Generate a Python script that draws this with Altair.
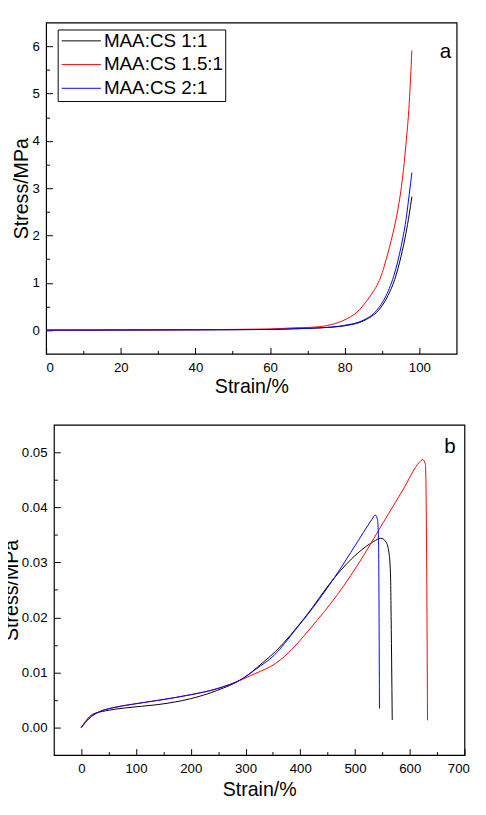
import altair as alt
import pandas as pd

series_names = ["MAA:CS 1:1", "MAA:CS 1.5:1", "MAA:CS 2:1"]
series_colors = ["#000000", "#ff0000", "#0000ff"]
panel_labels = ["a", "b"]

# ---- panel a (strain %, stress MPa) ----
a_strain_11 = [0, 20, 40, 60, 66.6, 73.7, 80.6, 85.9, 89.4, 91.6, 93.4, 95.1, 96.4, 97.3, 98.0]
a_stress_11 = [0, 0.003, 0.007, 0.015, 0.03, 0.05, 0.10, 0.23, 0.45, 0.73, 1.07, 1.56, 2.04, 2.45, 2.82]
a_strain_151 = [0, 20, 40, 60, 66.6, 71.0, 75.4, 79.8, 83.3, 86.3, 87.7, 89.0, 90.1, 91.1, 92.9, 94.2, 95.5, 96.4, 97.3, 98.0]
a_stress_151 = [0, 0.004, 0.01, 0.025, 0.05, 0.06, 0.10, 0.21, 0.38, 0.66, 0.82, 1.00, 1.22, 1.49, 2.04, 2.52, 3.22, 3.91, 4.80, 5.91]
a_strain_21 = [0, 20, 40, 60, 66.6, 73.7, 79.8, 85.0, 88.5, 91.1, 93.4, 95.1, 96.4, 97.3, 98.0]
a_stress_21 = [0, 0.003, 0.007, 0.015, 0.03, 0.05, 0.10, 0.21, 0.41, 0.73, 1.21, 1.76, 2.32, 2.87, 3.33]

# ---- panel b ----
b_strain_11 = [0, 20.3, 44.2, 80, 139.8, 199.5, 247.3, 295, 331, 354.8, 408.5, 462.3, 504, 534, 547, 556.7, 562.6, 565, 565.7, 568]
b_stress_11 = [0, 0.00238, 0.00303, 0.00356, 0.00416, 0.00523, 0.00671, 0.0089, 0.01174, 0.01383, 0.0200, 0.0272, 0.0316, 0.0338, 0.0344, 0.0337, 0.0313, 0.0272, 0.0224, 0.00137]
b_strain_151 = [0, 14.3, 32.3, 56.2, 92, 139.8, 199.5, 247.3, 295, 318.9, 354.8, 371.5, 420.5, 468.3, 516, 551.9, 587.7, 617.6, 623.5, 628.4, 629.5, 632.5]
b_stress_151 = [0, 0.00167, 0.00285, 0.00357, 0.00421, 0.00493, 0.00594, 0.00701, 0.00879, 0.00985, 0.01163, 0.01294, 0.01827, 0.0242, 0.0313, 0.0373, 0.0432, 0.0482, 0.0487, 0.0479, 0.045, 0.0013]
b_strain_21 = [0, 14.3, 32.3, 56.2, 92, 139.8, 199.5, 247.3, 295, 318.9, 352, 390.6, 432.4, 474.2, 510, 530.9, 537, 541.1, 542.9, 544.7]
b_stress_21 = [0, 0.00165, 0.00283, 0.00355, 0.0042, 0.00493, 0.00596, 0.00705, 0.0089, 0.0106, 0.0131, 0.01769, 0.0230, 0.0290, 0.0346, 0.0378, 0.0386, 0.0378, 0.0343, 0.00345]

# axis tick values
a_x_major = [0, 20, 40, 60, 80, 100]
a_x_minor = [10, 30, 50, 70, 90]
a_y_major = [0, 1, 2, 3, 4, 5, 6]
a_y_minor = [0.5, 1.5, 2.5, 3.5, 4.5, 5.5]
b_x_major = [0, 100, 200, 300, 400, 500, 600, 700]
b_x_minor = [50, 150, 250, 350, 450, 550, 650]
b_y_major = [0.0, 0.01, 0.02, 0.03, 0.04, 0.05]
b_y_minor = [0.005, 0.015, 0.025, 0.035, 0.045]


def frame(pairs):
    rows = []
    for name, xs, ys in pairs:
        for i, (x, y) in enumerate(zip(xs, ys)):
            rows.append({"series": name, "strain": x, "stress": y, "idx": i})
    return pd.DataFrame(rows)


df_a = frame([(series_names[0], a_strain_11, a_stress_11),
              (series_names[1], a_strain_151, a_stress_151),
              (series_names[2], a_strain_21, a_stress_21)])
df_b = frame([(series_names[0], b_strain_11, b_stress_11),
              (series_names[1], b_strain_151, b_stress_151),
              (series_names[2], b_strain_21, b_stress_21)])

FONT = "Liberation Sans"
MAJ = 6.5
MIN = 3.5
LABEL_GAP = 7


def inward(n):
    # ticks pointing into the plot (Origin style)
    return {"expr": str(-n)}


def panel(df, xdom, ydom, xmaj, xmin, ymaj, ymin, yfmt, legend, label, lab_x, lab_y,
          xtitle_pad, ytitle_pad, w, h, flush=False, right_space=None):
    xs = alt.Scale(domain=xdom, nice=False, zero=False)
    ys = alt.Scale(domain=ydom, nice=False, zero=False)
    color = alt.Color("series:N", scale=alt.Scale(domain=series_names, range=series_colors),
                      legend=legend)
    x_extra = {"labelFlush": True, "labelFlushOffset": 5} if flush else {}
    lines = alt.Chart(df).mark_line(strokeWidth=1, interpolate="monotone").encode(
        x=alt.X("strain:Q", scale=xs,
                axis=alt.Axis(values=xmaj, format="d", title="Strain/%", orient="bottom",
                              ticks=True, tickSize=inward(MAJ), domain=False, grid=False,
                              tickColor="black", tickWidth=1,
                              labelPadding=LABEL_GAP + MAJ, titlePadding=xtitle_pad,
                              **x_extra)),
        y=alt.Y("stress:Q", scale=ys,
                axis=alt.Axis(values=ymaj, format=yfmt, title="Stress/MPa", orient="left",
                              ticks=True, tickSize=inward(MAJ), domain=False, grid=False,
                              tickColor="black", tickWidth=1,
                              labelPadding=LABEL_GAP + MAJ, titlePadding=ytitle_pad)),
        color=color,
        order=alt.Order("idx:Q"),
    )
    minor = alt.Chart(df).mark_line(opacity=0).encode(
        x=alt.X("strain:Q", scale=xs,
                axis=alt.Axis(values=xmin, labels=False, title=None, orient="bottom",
                              ticks=True, tickSize=inward(MIN), domain=False, grid=False,
                              tickColor="black", tickWidth=1)),
        y=alt.Y("stress:Q", scale=ys,
                axis=alt.Axis(values=ymin, labels=False, title=None, orient="left",
                              ticks=True, tickSize=inward(MIN), domain=False, grid=False,
                              tickColor="black", tickWidth=1)),
        detail="series:N",
    )
    text = alt.Chart(pd.DataFrame({"t": [label]})).mark_text(
        font=FONT, fontSize=21, align="center", baseline="alphabetic", color="black"
    ).encode(x=alt.value(lab_x), y=alt.value(lab_y), text="t:N")
    layers = [lines, minor, text]
    if right_space is not None:
        # blank right-hand axis used only to balance the centred layout
        spacer = alt.Chart(df).mark_line(opacity=0).encode(
            y=alt.Y("stress:Q", scale=ys,
                    axis=alt.Axis(orient="right", labels=False, ticks=False, domain=False,
                                  grid=False, title=" ", titleFontSize=right_space,
                                  titlePadding=0)),
            detail="series:N",
        )
        layers.append(spacer)
    return alt.layer(*layers).resolve_scale(
        x="independent", y="independent").properties(width=w, height=h)


legend_a = alt.Legend(title=None, orient="none", legendX=12, legendY=7,
                      strokeColor="black", padding=2,
                      symbolType="M-1.5,0H6.5", symbolSize=100, symbolStrokeWidth=1,
                      labelFontSize=19.2, labelFont=FONT, labelColor="black",
                      labelOffset=26, rowPadding=4.2)
legend_b = alt.Legend(title=None, orient="none", legendX=19, legendY=17,
                      padding=2,
                      symbolType="M-1.5,0H6.5", symbolSize=100, symbolStrokeWidth=1,
                      labelFontSize=19.2, labelFont=FONT, labelColor="black",
                      labelOffset=27, rowPadding=3.6)

top = panel(df_a, [0, 110], [-0.5, 6.5], a_x_major, a_x_minor, a_y_major, a_y_minor, "d",
            legend_a, panel_labels[0], 407.5, 36.5, 3.5, 0, 419, 338, right_space=21)
bottom = panel(df_b, [-50, 700], [-0.005, 0.055], b_x_major, b_x_minor, b_y_major, b_y_minor, ".2f",
               legend_b, panel_labels[1], 404.3, 28.5, 5, 0, 419, 337, flush=True)

chart = alt.vconcat(top, bottom, spacing=26.5, center=True).properties(
    padding={"left": -7.3, "top": 5.7, "right": 0, "bottom": -1}
).configure_view(
    stroke="black", strokeWidth=1.2
).configure_axis(
    labelFont=FONT, titleFont=FONT, labelFontSize=13.5, titleFontSize=20,
    titleFontWeight="normal", labelColor="black", titleColor="black",
    tickColor="black", tickWidth=1
)

chart.save("out.html", embed_options={"renderer": "svg", "actions": False})
